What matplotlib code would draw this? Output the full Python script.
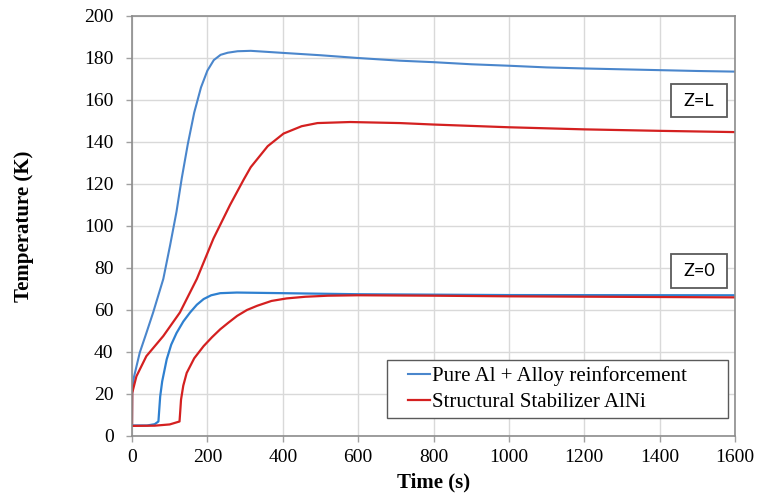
import matplotlib
matplotlib.use('Agg')
import matplotlib.pyplot as plt
from matplotlib.patches import Rectangle
import numpy as np


# %%  Data (time in s, temperature in K)

t_blue_L = [0, 0.5, 5, 20.5, 38, 56, 83, 101, 118, 132, 148, 165, 183, 200, 217, 235, 254, 280, 315, 350,
            402, 500, 598, 711, 800, 900, 1000, 1100, 1200, 1300, 1400, 1500, 1600]
T_blue_L = [5, 20.5, 28, 39.7, 49, 58.8, 74.8, 90.8, 106.8, 122.8, 139, 154, 166, 174, 179, 181.5, 182.5, 183.2, 183.4, 183,
            182.4, 181.3, 180, 178.7, 178, 177, 176.3, 175.5, 175, 174.6, 174.2, 173.8, 173.5]

t_red_L = [0, 0.5, 11.6, 38, 83, 127, 172, 216, 260, 296, 315, 360, 402, 450, 492, 579, 711,
           800, 1000, 1200, 1400, 1600]
T_red_L = [5, 20.5, 28.4, 38, 47.6, 58.8, 74.8, 94, 110, 122, 128, 138, 144, 147.5, 149, 149.5, 149,
           148.3, 147, 146, 145.3, 144.7]

t_blue_0 = [0, 40, 60, 70, 72, 74.7, 80, 92, 104, 118, 136, 154, 172, 190, 210, 234, 278, 400, 600, 1000, 1600]
T_blue_0 = [5, 5, 5.6, 6.9, 12, 18.8, 26, 36.5, 43.5, 49, 54.5, 58.8, 62.5, 65.2, 67, 68, 68.3, 68, 67.5, 67.1, 67]

t_red_0 = [0, 60, 100, 126, 128, 130, 136, 145, 165, 190, 212, 234, 256, 279, 305, 332, 370, 410, 460, 520,
           600, 800, 1000, 1600]
T_red_0 = [4.8, 4.9, 5.5, 6.9, 12, 17.3, 24, 30, 37, 42.8, 47, 50.8, 54, 57.2, 60, 62, 64.3, 65.5, 66.3, 66.8,
           67, 66.8, 66.5, 66]

blue_color = '#4A86CC'
blue_color_0 = '#2E80D0'
red_color = '#D42020'


# %%  Plot

plt.rcParams['font.family'] = ['Liberation Serif', 'DejaVu Serif']

fig = plt.figure(figsize=(7.61, 4.99), dpi=100)
ax = fig.add_axes([0.1735, 0.1263, 0.7924, 0.8417])

ax.plot(t_blue_L, T_blue_L, color=blue_color, lw=1.5, label='Pure Al + Alloy reinforcement')
ax.plot(t_red_L, T_red_L, color=red_color, lw=1.6, label='Structural Stabilizer AlNi')
ax.plot(t_blue_0, T_blue_0, color=blue_color_0, lw=1.6)
ax.plot(t_red_0, T_red_0, color=red_color, lw=1.6)

ax.set_xlim(0, 1600)
ax.set_ylim(0, 200)
ax.set_xticks(np.arange(0, 1601, 200))
ax.set_yticks(np.arange(0, 201, 20))
ax.tick_params(labelsize=14, length=4.3, width=1, color='#a0a0a0')
ax.tick_params(axis='x', pad=5)
ax.tick_params(axis='y', pad=9)
ax.grid(True, color='#d9d9d9', lw=1)
ax.set_axisbelow(True)
for s in ax.spines.values():
    s.set_color('#8c8c8c')
    s.set_linewidth(1.2)

ax.set_xlabel('Time (s)', fontsize=15, fontweight='bold', labelpad=5)
ax.set_ylabel('Temperature (K)', fontsize=15, fontweight='bold', labelpad=36)

# legend: frame drawn separately (Excel style, wide left margin)
ax.add_patch(Rectangle((0.423, 0.043), 0.565, 0.138, transform=ax.transAxes,
                       fc='white', ec='#5a5a5a', lw=1, zorder=4))
leg = ax.legend(loc='center left', bbox_to_anchor=(0.458, 0.112), borderaxespad=0, fontsize=15,
                handlelength=1.05, handletextpad=0.1, frameon=False,
                borderpad=0, labelspacing=0.3)
leg.set_zorder(5)

# Z labels in boxes
for label, (x0, x1, y0, y1) in [('Z=L', (1430, 1578, 151.7, 167.5)), ('Z=0', (1430, 1578, 70.3, 86.6))]:
    ax.add_patch(Rectangle((x0, y0), x1 - x0, y1 - y0, fc='white', ec='#5a5a5a', lw=1.3, zorder=4))
    ax.text((x0 + x1) / 2, (y0 + y1) / 2, label, fontsize=13, family=['Lato', 'DejaVu Sans'],
            ha='center', va='center', zorder=5)

fig.savefig('out.png', dpi=100)
